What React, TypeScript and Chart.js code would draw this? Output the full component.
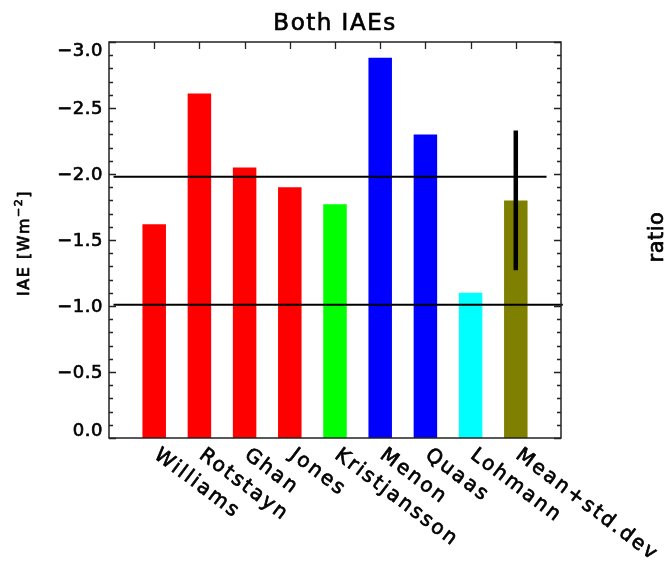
import { useEffect, useRef } from "react";
import { Chart, registerables } from "chart.js";

Chart.register(...registerables);

// Model names along the x axis
const MODELS = [
  "Williams",
  "Rotstayn",
  "Ghan",
  "Jones",
  "Kristjansson",
  "Menon",
  "Quaas",
  "Lohmann",
  "Mean+std.dev",
];

// Indirect aerosol effect per model, W m-2
const IAE = [-1.62, -2.61, -2.05, -1.9, -1.77, -2.88, -2.3, -1.1, -1.8];

// One fill colour per model bar
const BAR_COLORS = [
  "#ff0000",
  "#ff0000",
  "#ff0000",
  "#ff0000",
  "#00ff00",
  "#0000ff",
  "#0000ff",
  "#00ffff",
  "#808000",
];

// Spread of the ensemble mean (last bar)
const MEAN_STD = 0.53;

// Horizontal reference levels and their x extents (in bar-slot units)
const REF_UPPER = -1.98;
const REF_UPPER_X = [0.1, 9.68];
const REF_LOWER = -1.01;
const REF_LOWER_X = [0.1, 10.04];

// Y axis labelled ticks and minor tick step
const Y_TICKS = [0, -0.5, -1, -1.5, -2, -2.5, -3];
const Y_MINOR_STEP = 0.1;

const FONT = "'DejaVu Sans', sans-serif";

function fmtTick(v: number): string {
  if (v === 0) return "0.0";
  return (v < 0 ? "\u2212" : "") + Math.abs(v).toFixed(1);
}

// Filled text with a thin outline so strokes read a little heavier
function drawText(ctx: CanvasRenderingContext2D, s: string, x: number, y: number) {
  ctx.strokeText(s, x, y);
  ctx.fillText(s, x, y);
}

const framePlugin = {
  id: "idlFrame",
  afterDraw(chart: any) {
    const { ctx, chartArea } = chart;
    const { left, right, top, bottom } = chartArea;
    const xs = chart.scales.x;
    const ys = chart.scales.y;
    ctx.save();

    // frame
    ctx.strokeStyle = "#222";
    ctx.lineWidth = 1.5;
    ctx.strokeRect(left, top, right - left, bottom - top);

    // y ticks on both sides, pointing inward
    ctx.lineWidth = 1.3;
    const nMinor = Math.round(3 / Y_MINOR_STEP);
    for (let k = 0; k <= nMinor; k++) {
      const v = -k * Y_MINOR_STEP;
      const y = Math.round(ys.getPixelForValue(v)) + 0.5;
      const len = k % 5 === 0 ? 7 : 4;
      ctx.beginPath();
      ctx.moveTo(left, y);
      ctx.lineTo(left + len, y);
      ctx.moveTo(right, y);
      ctx.lineTo(right - len, y);
      ctx.stroke();
    }

    // top ticks at each bar slot
    MODELS.forEach((_, i) => {
      const x = Math.round(xs.getPixelForValue(i + 1)) + 0.5;
      ctx.beginPath();
      ctx.moveTo(x, top);
      ctx.lineTo(x, top + 7);
      ctx.stroke();
    });

    ctx.fillStyle = "#000";
    ctx.strokeStyle = "#000";
    ctx.lineWidth = 0.7;
    ctx.lineJoin = "round";

    // y tick labels
    ctx.font = `18px ${FONT}`;
    (ctx as any).letterSpacing = "0.5px";
    ctx.textAlign = "right";
    ctx.textBaseline = "middle";
    Y_TICKS.forEach((v) => {
      let y = ys.getPixelForValue(v);
      y = Math.min(Math.max(y, top + 8), bottom - 8);
      drawText(ctx, fmtTick(v), left - 6, y + 1);
    });

    // rotated model names
    ctx.font = `20px ${FONT}`;
    (ctx as any).letterSpacing = "2.3px";
    ctx.textAlign = "left";
    ctx.textBaseline = "top";
    MODELS.forEach((name, i) => {
      const x = xs.getPixelForValue(i + 1);
      ctx.save();
      ctx.translate(x + 8, bottom + 7);
      ctx.rotate((37 * Math.PI) / 180);
      drawText(ctx, name, 0, 0);
      ctx.restore();
    });

    // title
    ctx.font = `23px ${FONT}`;
    (ctx as any).letterSpacing = "1.5px";
    ctx.textAlign = "center";
    ctx.textBaseline = "alphabetic";
    drawText(ctx, "Both IAEs", (left + right) / 2, 30);

    // y axis title with superscript
    ctx.save();
    ctx.translate(28.5, 243);
    ctx.rotate(-Math.PI / 2);
    ctx.textAlign = "left";
    (ctx as any).letterSpacing = "1.5px";
    const main = "IAE [Wm";
    const sup = "\u22122";
    const close = "]";
    ctx.font = `16px ${FONT}`;
    const wMain = ctx.measureText(main).width;
    const wClose = ctx.measureText(close).width;
    ctx.font = `11px ${FONT}`;
    const wSup = ctx.measureText(sup).width;
    const total = wMain + wSup + wClose;
    let cx = -total / 2;
    ctx.font = `16px ${FONT}`;
    drawText(ctx, main, cx, 0);
    cx += wMain;
    ctx.font = `11px ${FONT}`;
    drawText(ctx, sup, cx, -7);
    cx += wSup;
    ctx.font = `16px ${FONT}`;
    drawText(ctx, close, cx, 0);
    ctx.restore();

    // right-hand label
    ctx.save();
    ctx.translate(663, 237);
    ctx.rotate(-Math.PI / 2);
    ctx.font = `21px ${FONT}`;
    (ctx as any).letterSpacing = "0.5px";
    ctx.textAlign = "center";
    ctx.textBaseline = "alphabetic";
    drawText(ctx, "ratio", 0, 0);
    ctx.restore();

    ctx.restore();
  },
};

export default function App() {
  const canvasRef = useRef<HTMLCanvasElement | null>(null);

  useEffect(() => {
    const canvas = canvasRef.current;
    if (!canvas) return;
    const meanIdx = IAE.length - 1;
    const mean = IAE[meanIdx];

    const chart = new Chart(canvas, {
      type: "bar",
      data: {
        datasets: [
          {
            type: "line",
            data: [
              { x: REF_UPPER_X[0], y: REF_UPPER },
              { x: REF_UPPER_X[1], y: REF_UPPER },
            ],
            borderColor: "#000",
            borderWidth: 2,
            pointRadius: 0,
            fill: false,
            clip: false as any,
            order: 1,
          } as any,
          {
            type: "line",
            data: [
              { x: REF_LOWER_X[0], y: REF_LOWER },
              { x: REF_LOWER_X[1], y: REF_LOWER },
            ],
            borderColor: "#000",
            borderWidth: 2,
            pointRadius: 0,
            fill: false,
            clip: false as any,
            order: 1,
          } as any,
          {
            type: "line",
            data: [
              { x: meanIdx + 1, y: mean + MEAN_STD },
              { x: meanIdx + 1, y: mean - MEAN_STD },
            ],
            borderColor: "#000",
            borderWidth: 4.5,
            borderCapStyle: "butt",
            pointRadius: 0,
            fill: false,
            order: 0,
          } as any,
          {
            type: "bar",
            data: IAE.map((v, i) => ({ x: i + 1, y: v })),
            backgroundColor: BAR_COLORS,
            borderWidth: 0,
            barPercentage: 0.52,
            categoryPercentage: 1,
            order: 2,
          } as any,
        ],
      },
      options: {
        animation: false,
        responsive: false,
        events: [],
        layout: { padding: { left: 109, top: 42, right: 105, bottom: 124 } },
        plugins: {
          legend: { display: false },
          tooltip: { enabled: false },
          title: { display: false },
        },
        scales: {
          x: {
            type: "linear",
            min: 0,
            max: 10,
            offset: false,
            display: false,
            grid: { offset: false },
            ticks: { stepSize: 1 },
          },
          y: {
            type: "linear",
            min: -3,
            max: 0,
            reverse: true,
            display: false,
          },
        },
      },
      plugins: [framePlugin],
    });

    return () => chart.destroy();
  }, []);

  return (
    <div
      style={{
        position: "absolute",
        left: 0,
        top: 0,
        width: 666,
        height: 562,
        background: "#fff",
      }}
    >
      <canvas
        ref={canvasRef}
        width={666}
        height={562}
        style={{ display: "block" }}
      />
    </div>
  );
}
